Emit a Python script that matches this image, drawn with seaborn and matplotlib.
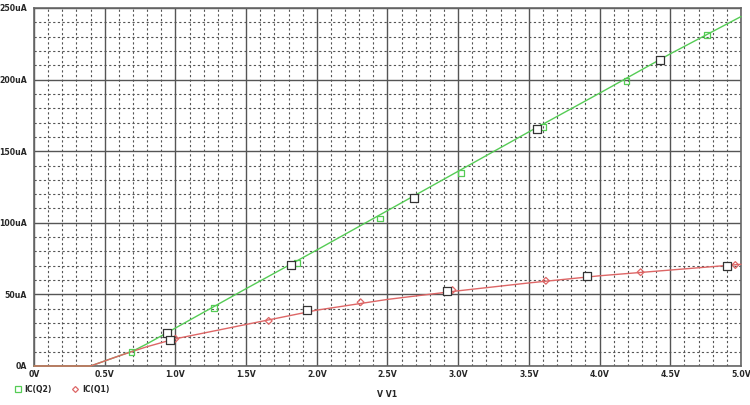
import matplotlib
matplotlib.use("Agg")
from matplotlib import pyplot as plt
from matplotlib.ticker import MultipleLocator
from matplotlib.lines import Line2D
import seaborn as sns
import pandas as pd

# IC(Q2) trace (V, uA)
q2_v = [0, 0.40, 0.50, 0.60, 0.70, 0.80, 1.0, 1.5, 2.0, 2.5, 3.0, 3.5, 4.0, 4.5, 5.0]
q2_i = [0, 0, 3.5, 7, 10.5, 15.5, 26.5, 54, 81, 108.5, 136, 163.5, 190.5, 218, 244]
q2_mark_v = [0.69, 1.27, 1.86, 2.45, 3.02, 3.60, 4.19, 4.76]
q2_mark_i = [10, 40.5, 72, 103, 135, 167, 199, 231]

# IC(Q1) trace
q1_v = [0, 0.40, 0.50, 0.60, 0.70, 0.80, 1.0, 1.25, 1.5, 1.75, 2.0, 2.5, 3.0, 3.5, 4.0, 4.5, 5.0]
q1_i = [0, 0, 3.5, 7, 10.3, 13.5, 19, 24, 29, 34, 39, 46.5, 52.5, 58, 63, 67, 71]
q1_mark_v = [1.0, 1.66, 2.31, 2.96, 3.62, 4.29, 4.96]
q1_mark_i = [19, 31.5, 44.5, 53, 59.5, 65.5, 70.5]

# hollow cursor squares
cur_v = [0.94, 0.96, 1.82, 1.93, 2.69, 2.92, 3.56, 3.91, 4.43, 4.90]
cur_i = [23, 18.2, 70.5, 39.1, 117.3, 52.4, 165.5, 62.8, 213.7, 69.8]

x_ticks = [0, 0.5, 1.0, 1.5, 2.0, 2.5, 3.0, 3.5, 4.0, 4.5, 5.0]
x_labels = ['0V', '0.5V', '1.0V', '1.5V', '2.0V', '2.5V', '3.0V', '3.5V', '4.0V', '4.5V', '5.0V']
y_ticks = [0, 50, 100, 150, 200, 250]
y_labels = ['0A', '50uA', '100uA', '150uA', '200uA', '250uA']

green = '#55cc55'
red = '#dd6666'
font = {'family': 'DejaVu Sans', 'weight': 'bold', 'size': 5.6}

sns.set_style("white")
fig = plt.figure(figsize=(7.5, 4.05), dpi=100)
ax = fig.add_axes([0.0453, 0.0963, 0.9427, 0.884])

q2 = pd.DataFrame({'V': q2_v, 'I': q2_i})
q1 = pd.DataFrame({'V': q1_v, 'I': q1_i})
sns.lineplot(data=q2, x='V', y='I', color=green, lw=1.0, ax=ax, zorder=3, clip_on=False)
sns.lineplot(data=q1, x='V', y='I', color=red, lw=1.0, ax=ax, zorder=3, clip_on=False)

sns.scatterplot(x=q2_mark_v, y=q2_mark_i, marker='s', s=18, facecolor='none',
                edgecolor=green, linewidth=0.9, ax=ax, zorder=4)
sns.scatterplot(x=q1_mark_v, y=q1_mark_i, marker='D', s=12, facecolor='none',
                edgecolor=red, linewidth=0.9, ax=ax, zorder=4)
sns.scatterplot(x=cur_v, y=cur_i, marker='s', s=40, facecolor='white',
                edgecolor='#333333', linewidth=0.9, ax=ax, zorder=5)

ax.set_xlim(0, 5.0)
ax.set_ylim(0, 250)
ax.xaxis.set_minor_locator(MultipleLocator(0.1))
ax.yaxis.set_minor_locator(MultipleLocator(10))
ax.grid(which='major', color='#555555', lw=1.0, ls='-')
ax.grid(which='minor', color='#555555', lw=0.8, ls=(0, (2, 2.2)))
ax.set_axisbelow(True)

ax.set_xticks(x_ticks)
ax.set_xticklabels(x_labels, fontdict=font)
ax.set_yticks(y_ticks)
ax.set_yticklabels(y_labels, fontdict=font)
ax.tick_params(axis='y', which='major', length=4, width=1, color='#555555', pad=1)
ax.tick_params(axis='x', which='major', length=0, pad=3)
ax.tick_params(which='minor', length=0)
for s in ax.spines.values():
    s.set_color('#666666')
    s.set_linewidth(1.2)

ax.set_xlabel('V V1', fontdict=font, labelpad=8)
ax.set_ylabel('')

handles = [Line2D([], [], ls='none', marker='s', ms=4, mfc='none', mec=green, mew=0.9),
           Line2D([], [], ls='none', marker='D', ms=3, mfc='none', mec=red, mew=0.9)]
fig.legend(handles, ['IC(Q2)', 'IC(Q1)'], loc='lower left', bbox_to_anchor=(0.01, 0.01),
           ncol=2, frameon=False, prop=font, handletextpad=0.5, columnspacing=2.6,
           handlelength=0.8)

fig.savefig('out.png', dpi=100, facecolor='white')
